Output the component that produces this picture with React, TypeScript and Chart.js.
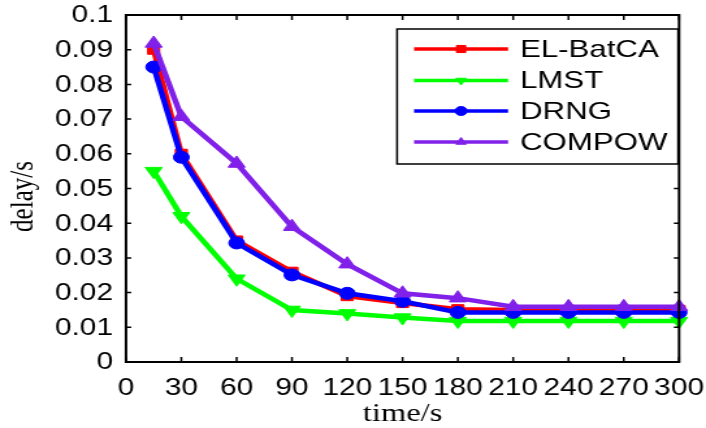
import React, { useEffect, useRef } from 'react';
import { Chart, registerables } from 'chart.js';

Chart.register(...registerables);

// ---- data ----
const times = [15, 30, 60, 90, 120, 150, 180, 210, 240, 270, 300];
const elBatCA = [0.09, 0.06, 0.035, 0.026, 0.019, 0.017, 0.0152, 0.015, 0.015, 0.015, 0.015];
const lmst = [0.055, 0.042, 0.024, 0.015, 0.014, 0.0128, 0.0118, 0.0118, 0.0118, 0.0118, 0.0118];
const drng = [0.085, 0.059, 0.0343, 0.0251, 0.0198, 0.0175, 0.0143, 0.0143, 0.0143, 0.0143, 0.0143];
const compow = [0.0918, 0.0707, 0.0572, 0.039, 0.0282, 0.0198, 0.0184, 0.0159, 0.0159, 0.0159, 0.0159];
const seriesNames = ['EL-BatCA', 'LMST', 'DRNG', 'COMPOW'];
const xTicks = [0, 30, 60, 90, 120, 150, 180, 210, 240, 270, 300];
const xTickLabels = ['0', '30', '60', '90', '120', '150', '180', '210', '240', '270', '300'];
const yTicks = [0, 0.01, 0.02, 0.03, 0.04, 0.05, 0.06, 0.07, 0.08, 0.09, 0.1];
const yTickLabels = ['0', '0.01', '0.02', '0.03', '0.04', '0.05', '0.06', '0.07', '0.08', '0.09', '0.1'];
const xTitle = 'time/s';
const yTitle = 'delay/s';

// ---- styles ----
const S = 1.3; // horizontal stretch of the whole figure
const W = 706;
const H = 428;
const W0 = Math.round(W / S);
const colors = ['#ff0000', '#00ff00', '#0000ff', '#8020e8'];
const pointStyles = ['rect', 'triangle', 'circle', 'triangle'];
const rotations = [0, 180, 0, 0];
const radii = [6.5, 7.5, 6, 7.5];

function drawMarker(ctx: CanvasRenderingContext2D, style: string, rot: number, x: number, y: number, r: number, color: string) {
  ctx.save();
  ctx.fillStyle = color;
  ctx.strokeStyle = color;
  ctx.lineWidth = 1;
  ctx.beginPath();
  if (style === 'rect') {
    const s = r * Math.SQRT1_2;
    ctx.rect(x - s, y - s, 2 * s, 2 * s);
  } else if (style === 'circle') {
    ctx.arc(x, y, r, 0, Math.PI * 2);
  } else {
    const sg = rot === 180 ? -1 : 1;
    ctx.moveTo(x, y - sg * r);
    ctx.lineTo(x + r * 0.866, y + sg * r * 0.5);
    ctx.lineTo(x - r * 0.866, y + sg * r * 0.5);
    ctx.closePath();
  }
  ctx.fill();
  ctx.stroke();
  ctx.restore();
}

const axesPlugin = {
  id: 'matlabAxes',
  afterDraw(chart: any) {
    const ctx: CanvasRenderingContext2D = chart.ctx;
    const { left, right, top, bottom } = chart.chartArea;
    const xs = chart.scales.x;
    const ys = chart.scales.y;
    ctx.save();
    ctx.strokeStyle = '#000';
    ctx.lineWidth = 2;
    ctx.strokeRect(left, top, right - left, bottom - top);
    ctx.lineWidth = 1.5;
    ctx.beginPath();
    xTicks.forEach((t) => {
      const px = xs.getPixelForValue(t);
      ctx.moveTo(px, bottom);
      ctx.lineTo(px, bottom - 5);
      ctx.moveTo(px, top);
      ctx.lineTo(px, top + 5);
    });
    yTicks.forEach((t) => {
      const py = ys.getPixelForValue(t);
      ctx.moveTo(left, py);
      ctx.lineTo(left + 4, py);
      ctx.moveTo(right, py);
      ctx.lineTo(right - 4, py);
    });
    ctx.stroke();

    // tick labels
    ctx.fillStyle = '#000';
    ctx.font = '23px "Liberation Sans", Arial, sans-serif';
    ctx.textAlign = 'center';
    ctx.textBaseline = 'alphabetic';
    xTicks.forEach((t, i) => {
      ctx.fillText(xTickLabels[i], xs.getPixelForValue(t), 395);
    });
    ctx.textAlign = 'right';
    ctx.textBaseline = 'middle';
    yTicks.forEach((t, i) => {
      ctx.fillText(yTickLabels[i], left - 10, ys.getPixelForValue(t) + 1);
    });

    // axis titles
    ctx.font = '25px "Liberation Serif", "Times New Roman", serif';
    ctx.textAlign = 'center';
    ctx.textBaseline = 'alphabetic';
    ctx.fillText(xTitle, (left + right) / 2, 421);
    ctx.save();
    ctx.translate(18, (top + bottom) / 2 + 8);
    ctx.rotate(-Math.PI / 2);
    ctx.textBaseline = 'middle';
    ctx.fillText(yTitle, 0, 0);
    ctx.restore();

    // legend
    const bx0 = 397 / S;
    const bx1 = 678 / S;
    const by0 = 29;
    const by1 = 164;
    ctx.fillStyle = '#fff';
    ctx.fillRect(bx0, by0, bx1 - bx0, by1 - by0);
    ctx.strokeStyle = '#000';
    ctx.lineWidth = 1.5;
    ctx.strokeRect(bx0, by0, bx1 - bx0, by1 - by0);
    const rowsY = [49, 80.5, 111, 142];
    const lx0 = 414 / S;
    const lx1 = 508 / S;
    seriesNames.forEach((name, i) => {
      const y = rowsY[i];
      ctx.strokeStyle = colors[i];
      ctx.lineWidth = 3.5;
      ctx.beginPath();
      ctx.moveTo(lx0, y);
      ctx.lineTo(lx1, y);
      ctx.stroke();
      drawMarker(ctx, pointStyles[i], rotations[i], (lx0 + lx1) / 2, y, i === 0 ? 5 : 4.5, colors[i]);
      ctx.fillStyle = '#000';
      ctx.font = '24px "Liberation Sans", Arial, sans-serif';
      ctx.textAlign = 'left';
      ctx.textBaseline = 'middle';
      ctx.fillText(name, 520 / S, y + 1);
    });
    ctx.restore();
  },
};

export default function App() {
  const ref = useRef<HTMLCanvasElement | null>(null);
  useEffect(() => {
    document.body.style.margin = '0';
    const canvas = ref.current;
    if (!canvas) return;
    const values = [elBatCA, lmst, drng, compow];
    const chart = new Chart(canvas, {
      type: 'line',
      data: {
        datasets: seriesNames.map((name, i) => ({
          label: name,
          data: times.map((t, j) => ({ x: t, y: values[i][j] })),
          borderColor: colors[i],
          backgroundColor: colors[i],
          borderWidth: 4.5,
          pointStyle: pointStyles[i] as any,
          pointRotation: rotations[i],
          pointRadius: radii[i],
          pointBackgroundColor: colors[i],
          pointBorderColor: colors[i],
          pointBorderWidth: 1,
          tension: 0,
          clip: false as any,
          order: 4 - i,
        })),
      },
      options: {
        animation: false,
        responsive: false,
        devicePixelRatio: 1,
        events: [],
        layout: { padding: { left: 126 / S, right: W0 - 679 / S, top: 15, bottom: H - 362 } },
        scales: {
          x: { type: 'linear', min: 0, max: 300, display: false },
          y: { type: 'linear', min: 0, max: 0.1, display: false },
        },
        plugins: { legend: { display: false }, tooltip: { enabled: false } },
      },
      plugins: [axesPlugin],
    });
    return () => chart.destroy();
  }, []);
  return (
    <div style={{ width: W, height: H, background: '#fff' }}>
      <canvas ref={ref} width={W0} height={H} style={{ width: `${W}px`, height: `${H}px`, display: 'block' }} />
    </div>
  );
}
